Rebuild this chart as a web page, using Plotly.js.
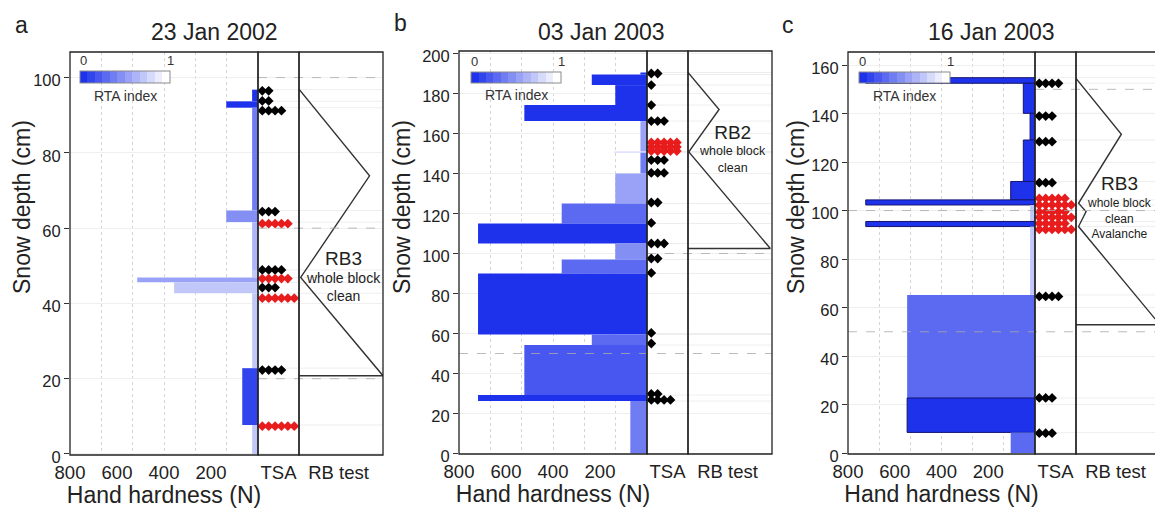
<!DOCTYPE html>
<html><head><meta charset="utf-8">
<script src="https://cdn.plot.ly/plotly-3.0.1.min.js"></script>
<style>html,body{margin:0;padding:0;overflow:hidden;background:#fff}#chart{width:1170px;height:508px}</style>
</head><body><div id="chart"></div>
<script>
// ================= DATA =================
const panelTitles = ['23 Jan 2002', '03 Jan 2003', '16 Jan 2003'];
const panelLetters = ['a', 'b', 'c'];
const hardnessTicks = [800, 600, 400, 200];

// ---- panel a ----
const aLayerTop    = [96.8, 93.7, 92.0, 64.7, 61.6, 48.9, 46.9, 45.6, 42.7, 22.8, 7.7];
const aLayerBottom = [93.7, 92.0, 64.7, 61.6, 48.9, 46.9, 45.6, 42.7, 22.8, 7.7, 0];
const aHardness    = [25, 135, 25, 135, 25, 25, 514, 357, 25, 67, 25];
const aRTA         = [0.05, 0.05, 0.38, 0.45, 0.6, 0.7, 0.5, 0.72, 0.72, 0.12, 0.72];
const aTSADepth    = [96.5, 93.8, 91.2, 64.4, 61.2, 48.9, 46.6, 44.2, 41.4, 22.3, 7.4];
const aTSACount    = [2, 2, 4, 3, 5, 4, 5, 3, 6, 4, 6];
const aTSAFail     = [0, 0, 0, 0, 1, 0, 1, 0, 1, 0, 1];
const aRBPos       = [0, 0.84, 0.02, 1.0, 0];
const aRBDepth     = [96.9, 73.9, 46.9, 20.8, 20.8];
const aRBLabels    = ['RB3', 'whole block', 'clean'];
const aDashDepth   = [100, 60, 20];
const aDashFull    = [0, 0, 0];

// ---- panel b ----
const bLayerTop    = [190.5, 189.5, 184.2, 174.2, 166.2, 151.0, 150.4, 140.0, 125.0, 115.0, 105.0, 97.0, 90.0, 59.5, 54.2, 29.2, 26.2];
const bLayerBottom = [189.5, 184.2, 174.2, 166.2, 151.0, 150.4, 140.0, 125.0, 115.0, 105.0, 97.0, 90.0, 59.5, 54.2, 29.2, 26.2, 0];
const bHardness    = [28, 235, 135, 522, 28, 140, 28, 135, 363, 719, 135, 363, 719, 235, 522, 719, 71];
const bRTA         = [0.05, 0.05, 0.05, 0.05, 0.55, 0.8, 0.4, 0.5, 0.3, 0.05, 0.45, 0.3, 0.05, 0.3, 0.2, 0.05, 0.35];
const bTSADepth    = [190, 184.2, 174.2, 166.2, 155.5, 153.3, 151.2, 146.7, 140.3, 125.5, 115.3, 105, 97.5, 90.3, 60.3, 55, 29.8, 26.8];
const bTSACount    = [2, 1, 1, 3, 5, 5, 5, 3, 3, 2, 1, 3, 2, 1, 1, 1, 2, 4];
const bTSAFail     = [0, 0, 0, 0, 1, 1, 1, 0, 0, 0, 0, 0, 0, 0, 0, 0, 0, 0];
const bRBPos       = [0, 0.37, 0.01, 0.98, 0];
const bRBDepth     = [190.5, 172, 150.8, 102.5, 102.5];
const bRBLabels    = ['RB2', 'whole block', 'clean'];
const bDashDepth   = [100, 50];
const bDashFull    = [0, 1];

// ---- panel c ----
const cLayerTop    = [154.8, 152.5, 140.1, 129.1, 112.0, 104.4, 102.3, 95.5, 93.4, 65.2, 22.7, 8.5];
const cLayerBottom = [152.5, 140.1, 129.1, 112.0, 104.4, 102.3, 95.5, 93.4, 65.2, 22.7, 8.5, 0];
const cHardness    = [724, 50, 21, 50, 104, 724, 21, 724, 21, 547, 547, 104];
const cRTA         = [0.0, 0.05, 0.05, 0.05, 0.05, 0.05, 0.7, 0.05, 0.7, 0.25, 0.05, 0.3];
const cTSADepth    = [152.5, 139.0, 128.4, 111.5, 105.0, 102.3, 99.5, 97.2, 94.7, 92.2, 64.6, 22.7, 8.2];
const cTSACount    = [4, 3, 3, 3, 5, 6, 5, 6, 5, 6, 4, 3, 3];
const cTSAFail     = [0, 0, 0, 0, 1, 1, 1, 1, 1, 1, 0, 0, 0];
const cRBPos       = [0, 0.54, 0.03, 0.12, 0.03, 1.0, 0];
const cRBDepth     = [154.5, 131.5, 103.0, 99.6, 93.4, 52.9, 52.9];
const cRBLabels    = ['RB3', 'whole block', 'clean', 'Avalanche'];
const cDashDepth   = [150, 100, 50];
const cDashFull    = [0, 1, 1];

// ================= LAYOUT GEOMETRY (pixels) =================
const W = 1170, H = 508;
const FONT = '"Liberation Sans", Arial, Helvetica, sans-serif';
const INK = '#222';
const geom = [
  {hx0: 70,  hx1: 258,  tx1: 299,  rx1: 383,  yTop: 52, yBot: 455, yRange: [-0.27, 106.8], dtick: 20,
   cb: [80, 170, 71, 83], cbTitleY: 96, titleX: 214, letter: [21, 25], yTitleX: 22,
   rbTextX: 0.53, rbBig: 19, rbSmall: 14, rbGroups: [[0, 1, 2]], rbGroupY: [275.5]},
  {hx0: 459, hx1: 647,  tx1: 688,  rx1: 772,  yTop: 51, yBot: 454, yRange: [-0.25, 201.25], dtick: 20,
   cb: [471, 561, 72, 83], cbTitleY: 95, titleX: 602, letter: [400, 23], yTitleX: 402,
   rbTextX: 0.53, rbBig: 19, rbSmall: 12.5, rbGroups: [[0, 1, 2]], rbGroupY: [149]},
  {hx0: 848, hx1: 1035, tx1: 1076, rx1: 1160, yTop: 52, yBot: 454, yRange: [-0.41, 165.4], dtick: 20,
   cb: [859, 950, 72, 83], cbTitleY: 96, titleX: 991, letter: [788, 25], yTitleX: 796,
   rbTextX: 0.52, rbBig: 19, rbSmall: 12, rbGroups: [[0], [1, 2, 3]], rbGroupY: [183, 218]}
];
const yTitleCenterY = 207;

const panels = [
  {top: aLayerTop, bot: aLayerBottom, hard: aHardness, rta: aRTA, tsaD: aTSADepth, tsaN: aTSACount, tsaF: aTSAFail,
   rbX: aRBPos, rbY: aRBDepth, rbL: aRBLabels, dashY: aDashDepth, dashF: aDashFull, outline: false},
  {top: bLayerTop, bot: bLayerBottom, hard: bHardness, rta: bRTA, tsaD: bTSADepth, tsaN: bTSACount, tsaF: bTSAFail,
   rbX: bRBPos, rbY: bRBDepth, rbL: bRBLabels, dashY: bDashDepth, dashF: bDashFull, outline: false},
  {top: cLayerTop, bot: cLayerBottom, hard: cHardness, rta: cRTA, tsaD: cTSADepth, tsaN: cTSACount, tsaF: cTSAFail,
   rbX: cRBPos, rbY: cRBDepth, rbL: cRBLabels, dashY: cDashDepth, dashF: cDashFull, outline: true}
];

// stepped blue -> white colour scale (RTA index 0..1)
const base = [30, 50, 235], nSteps = 12;
const colorscale = [];
for (let k = 0; k < nSteps; k++) {
  const t = k / (nSteps - 1);
  const c = base.map(v => Math.round(v + (255 - v) * t));
  const col = `rgb(${c[0]},${c[1]},${c[2]})`;
  colorscale.push([k / nSteps, col], [(k + 1) / nSteps, col]);
}

const traces = [], shapes = [], annotations = [];
const layout = {
  width: W, height: H, margin: {l: 0, r: 0, t: 0, b: 0},
  paper_bgcolor: '#fff', plot_bgcolor: '#fff', showlegend: false,
  barmode: 'overlay', font: {family: FONT, color: INK}
};

const px = v => v / W, py = v => 1 - v / H;

panels.forEach((p, i) => {
  const g = geom[i];
  const hx = i * 3 + 1, tx = i * 3 + 2, rx = i * 3 + 3, yy = i + 1;
  const xn = n => (n === 1 ? 'x' : 'x' + n), yn = n => (n === 1 ? 'y' : 'y' + n);
  const axX = n => (n === 1 ? 'xaxis' : 'xaxis' + n), axY = n => (n === 1 ? 'yaxis' : 'yaxis' + n);

  layout[axX(hx)] = {
    domain: [px(g.hx0), px(g.hx1)], range: [800, 0], anchor: yn(yy),
    tickmode: 'array', tickvals: hardnessTicks, ticks: '', ticklabelstandoff: 4,
    tickfont: {size: 18.5, color: INK}, showgrid: false, zeroline: false, showline: false,
    minor: {tick0: 0, dtick: 800 / 6, showgrid: true, gridcolor: '#d4d4d4', griddash: 'dot', gridwidth: 1, ticks: ''},
    title: {text: 'Hand hardness (N)', font: {size: 23, color: INK}, standoff: 2}
  };
  layout[axX(tx)] = {
    domain: [px(g.hx1), px(g.tx1)], range: [0.33, 6.74], anchor: yn(yy),
    tickmode: 'array', tickvals: [3.53], ticktext: ['TSA'], ticks: '', ticklabelstandoff: 4,
    tickfont: {size: 18.5, color: INK}, showgrid: false, zeroline: false
  };
  layout[axX(rx)] = {
    domain: [px(g.tx1), Math.min(1, px(g.rx1))], range: [0, 1], anchor: yn(yy),
    tickmode: 'array', tickvals: [0.47], ticktext: ['RB test'], ticks: '', ticklabelstandoff: 4,
    tickfont: {size: 18.5, color: INK}, showgrid: false, zeroline: false
  };
  layout[axY(yy)] = {
    domain: [py(g.yBot), py(g.yTop)], range: g.yRange, anchor: xn(hx),
    tick0: 0, dtick: g.dtick, ticks: 'outside', ticklen: 5, tickcolor: '#333', ticklabelshift: 3,
    tickfont: {size: 16.5, color: INK}, showgrid: true, gridcolor: '#efefef', zeroline: false
  };
  annotations.push({xref: 'paper', yref: 'paper', x: px(g.yTitleX), y: py(yTitleCenterY), text: 'Snow depth (cm)',
    textangle: -90, showarrow: false, xanchor: 'center', yanchor: 'middle', font: {size: 23, color: INK}});

  const mids = p.top.map((t, k) => (t + p.bot[k]) / 2);
  const thick = p.top.map((t, k) => t - p.bot[k]);
  traces.push({
    type: 'bar', orientation: 'h', xaxis: xn(hx), yaxis: yn(yy),
    x: p.hard, y: mids, width: thick, base: 0,
    marker: {
      color: p.rta, cmin: 0, cmax: 1, colorscale: colorscale, showscale: true,
      line: {
        color: 'rgb(20,20,110)',
        width: p.rta.map(v => (p.outline && v <= 0.05 ? 1 : 0))
      },
      colorbar: {
        orientation: 'h', x: px((g.cb[0] + g.cb[1]) / 2), xanchor: 'center',
        y: py(g.cb[2]), yanchor: 'top',
        len: g.cb[1] - g.cb[0], lenmode: 'pixels',
        thickness: g.cb[3] - g.cb[2], thicknessmode: 'pixels',
        xpad: 0, ypad: 0, outlinewidth: 1, outlinecolor: '#8a8a8a', borderwidth: 0,
        ticks: '', tickmode: 'array', tickvals: [], ticktext: [],
        tickfont: {size: 2, color: 'rgba(0,0,0,0)'},
        title: {text: ''}
      }
    },
    hoverinfo: 'skip'
  });
  annotations.push(
    {xref: 'paper', yref: 'paper', x: px(g.cb[0] + 3), y: py(g.cb[2] - 1), text: '0', showarrow: false,
     xanchor: 'center', yanchor: 'bottom', font: {size: 13, color: '#333'}},
    {xref: 'paper', yref: 'paper', x: px(g.cb[1]), y: py(g.cb[2] - 1), text: '1', showarrow: false,
     xanchor: 'center', yanchor: 'bottom', font: {size: 13, color: '#333'}},
    {xref: 'paper', yref: 'paper', x: px((g.cb[0] + g.cb[1]) / 2), y: py(g.cbTitleY), text: 'RTA index', showarrow: false,
     xanchor: 'center', yanchor: 'middle', font: {size: 14, color: '#333'}}
  );

  const blk = {x: [], y: []}, red = {x: [], y: []};
  p.tsaD.forEach((d, k) => {
    const tgt = p.tsaF[k] ? red : blk;
    for (let j = 1; j <= p.tsaN[k]; j++) { tgt.x.push(j); tgt.y.push(d); }
  });
  [[blk, '#000000'], [red, 'rgb(232,28,28)']].forEach(([s, col]) => {
    traces.push({
      type: 'scatter', mode: 'markers', xaxis: xn(tx), yaxis: yn(yy), x: s.x, y: s.y,
      marker: {symbol: 'diamond', size: 7.5, color: col, line: {width: 0}}, hoverinfo: 'skip', cliponaxis: false
    });
  });

  traces.push({
    type: 'scatter', mode: 'lines', xaxis: xn(rx), yaxis: yn(yy), x: p.rbX, y: p.rbY,
    line: {color: '#333', width: 1.4}, hoverinfo: 'skip', cliponaxis: false
  });
  g.rbGroups.forEach((grp, gi) => {
    const text = grp.map(k => (k === 0 ? `<span style="font-size:${g.rbBig}px">${p.rbL[k]}</span>` : p.rbL[k])).join('<br>');
    annotations.push({xref: xn(rx), yref: 'paper', x: g.rbTextX, y: py(g.rbGroupY[gi]), text: text, showarrow: false,
      xanchor: 'center', yanchor: 'middle', align: 'center',
      font: {size: grp.length === 1 && grp[0] === 0 ? g.rbBig : g.rbSmall, color: INK}});
  });

  const bounds = Array.from(new Set(p.top.concat(p.bot)));
  bounds.forEach(b => {
    shapes.push({type: 'line', xref: 'paper', yref: yn(yy), x0: px(g.hx1), x1: px(g.rx1), y0: b, y1: b,
      line: {color: 'rgba(0,0,0,0.07)', width: 1}, layer: 'below'});
  });
  p.dashY.forEach((d, k) => {
    shapes.push({type: 'line', xref: 'paper', yref: yn(yy), x0: px(p.dashF[k] ? g.hx0 : g.hx1), x1: px(g.rx1),
      y0: d, y1: d, line: {color: 'rgba(170,170,170,0.8)', width: 1, dash: 'dash'}, layer: 'above'});
  });

  [hx, tx, rx].forEach(n => {
    shapes.push({type: 'rect', xref: xn(n) + ' domain', yref: yn(yy) + ' domain', x0: 0, x1: 1, y0: 0, y1: 1,
      line: {color: '#222', width: 1.3}, fillcolor: 'rgba(0,0,0,0)', layer: 'above'});
  });

  annotations.push(
    {xref: 'paper', yref: 'paper', x: px(g.titleX), y: py(32), text: panelTitles[i], showarrow: false,
     xanchor: 'center', yanchor: 'middle', font: {size: 23, color: INK}},
    {xref: 'paper', yref: 'paper', x: px(g.letter[0]), y: py(g.letter[1]), text: panelLetters[i], showarrow: false,
     xanchor: 'center', yanchor: 'middle', font: {size: 23, color: INK}}
  );
});

layout.shapes = shapes;
layout.annotations = annotations;
Plotly.newPlot('chart', traces, layout, {displayModeBar: false, staticPlot: true});
</script></body></html>
